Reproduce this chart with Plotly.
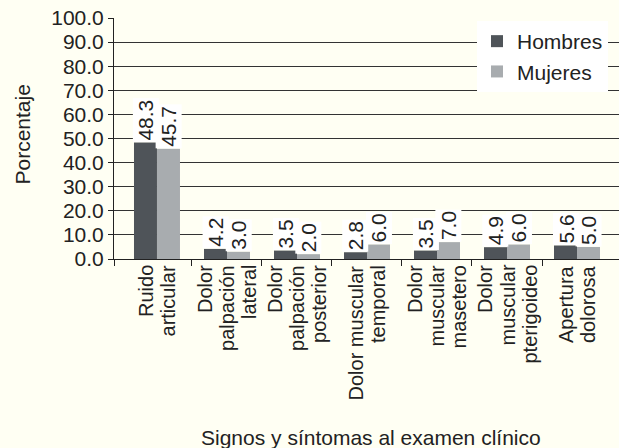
import plotly.graph_objects as go

categories = [
    "Ruido<br>articular",
    "Dolor<br>palpación<br>lateral",
    "Dolor<br>palpación<br>posterior",
    "Dolor muscular<br>temporal",
    "Dolor<br>muscular<br>masetero",
    "Dolor<br>muscular<br>pterigoideo",
    "Apertura<br>dolorosa",
]
hombres = [48.3, 4.2, 3.5, 2.8, 3.5, 4.9, 5.6]
mujeres = [45.7, 3.0, 2.0, 6.0, 7.0, 6.0, 5.0]
y_ticks = [0, 10, 20, 30, 40, 50, 60, 70, 80, 90, 100]

C_H = "#4f5459"
C_M = "#a8acaf"
BG = "#fffff3"
TXT = "#222"
FONT = "Liberation Sans, Arial, sans-serif"
XRANGE = [-0.614, 6.6]

fig = go.Figure()
fig.add_trace(go.Bar(name="Hombres", x=categories, y=hombres, marker_color=C_H,
                     marker_line_width=0))
fig.add_trace(go.Bar(name="Mujeres", x=categories, y=mujeres, marker_color=C_M,
                     marker_line_width=0))
# invisible trace to activate a tick-only overlay axis
fig.add_trace(go.Scatter(x=[XRANGE[0]], y=[0], xaxis="x2", mode="markers",
                         marker=dict(opacity=0), showlegend=False, hoverinfo="skip"))

annotations = []
# value labels
for series, shift in ((hombres, -11.5), (mujeres, 11.5)):
    for c, v in zip(categories, series):
        annotations.append(dict(
            x=c, y=v, xref="x", yref="y", text=f"{v:.1f}", showarrow=False,
            textangle=-90, xanchor="center", yanchor="bottom", xshift=shift,
            bgcolor="white", borderpad=1, font=dict(size=21, color=TXT, family=FONT),
        ))
# category labels, one annotation per line for tight line spacing
LINE = 22
for c in categories:
    lines = c.split("<br>")
    n = len(lines)
    for k, line in enumerate(lines):
        annotations.append(dict(
            x=c, y=0, xref="x", yref="y", text=line, showarrow=False,
            textangle=-90, xanchor="center", yanchor="top",
            xshift=(k - (n - 1) / 2) * LINE, yshift=-5, borderpad=0,
            font=dict(size=20, color=TXT, family=FONT),
        ))
# axis titles
annotations.append(dict(
    x=0.5, y=0, xref="paper", yref="paper", text="Signos y síntomas al examen clínico",
    showarrow=False, xanchor="center", yanchor="middle", xshift=4, yshift=-178,
    font=dict(size=21, color=TXT, family=FONT),
))
annotations.append(dict(
    x=0, y=0.5, xref="paper", yref="paper", text="Porcentaje", textangle=-90,
    showarrow=False, xanchor="center", yanchor="middle", xshift=-92, yshift=4,
    font=dict(size=21, color=TXT, family=FONT),
))

boundaries = [XRANGE[0]] + [i + 0.5 for i in range(len(categories) - 1)]

fig.update_layout(
    annotations=annotations,
    barmode="group",
    bargap=0.343,
    bargroupgap=0,
    width=619, height=448,
    margin=dict(l=114, r=0, t=18, b=189),
    paper_bgcolor=BG, plot_bgcolor=BG,
    font=dict(family=FONT, size=21, color=TXT),
    showlegend=True,
    legend=dict(x=(477 - 114) / 505, y=1 - (21 - 18) / 241, xanchor="left", yanchor="top",
                bgcolor="white", font=dict(size=21, color=TXT),
                itemwidth=30, tracegroupgap=0),
    xaxis=dict(
        range=XRANGE, showticklabels=False, ticks="",
        showline=True, linecolor=TXT, linewidth=1, showgrid=False,
        automargin=False,
    ),
    xaxis2=dict(
        overlaying="x", side="bottom", range=XRANGE, tickvals=boundaries,
        showticklabels=False, ticks="outside", ticklen=6, tickcolor=TXT,
        showline=False, showgrid=False, zeroline=False, automargin=False,
    ),
    yaxis=dict(
        range=[0, 100], tickvals=y_ticks, tickformat=".1f",
        ticks="outside", ticklen=5, tickcolor=TXT, showline=True,
        linecolor=TXT, linewidth=1, showgrid=True, gridcolor="#333",
        gridwidth=1, zeroline=False,
        tickfont=dict(size=21, family=FONT, color=TXT),
        automargin=False,
    ),
)

fig.write_html("out.html", config={"displayModeBar": False},
               post_script="document.body.style.margin='0';")
